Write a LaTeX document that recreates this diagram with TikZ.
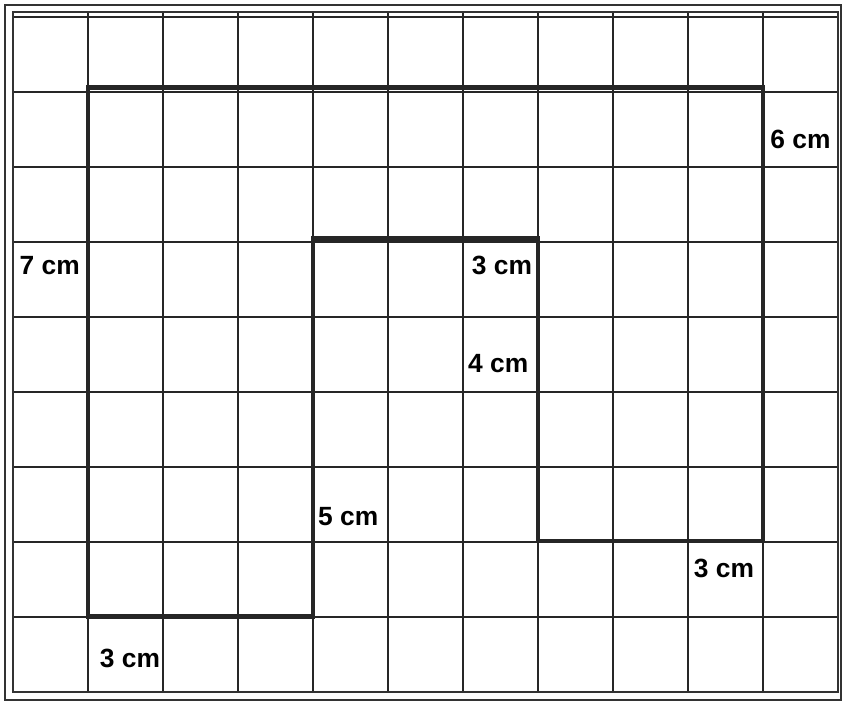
\documentclass[tikz,border=0pt]{standalone}
\usepackage{fontspec}
\newfontfamily\lblfont{Liberation Sans}

\begin{document}
\begin{tikzpicture}[x=1cm, y=1.0074cm]
    \tikzset{ grd/.style ={draw=black!85, line width=0.65pt} }
    \tikzset{ frm/.style ={draw=black!80, line width=0.8pt} }
    \tikzset{ shp/.style ={draw=black!85, line width=1.7pt, line join=miter} }
    \tikzset{ lbl/.style ={font=\lblfont\bfseries\fontsize{10}{12}\selectfont, text=black, inner sep=0pt} }

    \useasboundingbox (-0.173,-0.132) rectangle (11.067,9.159);

    % paper frame and squares
    \draw[frm] (-0.107,-0.106) rectangle (11.04,9.093);
    \draw[grd] (0,0) grid (11,9);
    \draw[frm] (0,0) rectangle (11,9);

    % the figure
    \draw[shp] (1,8) -- (10,8) -- (10,2) -- (7,2) -- (7,6) -- (4,6) -- (4,1) -- (1,1) -- cycle;

    \node[lbl] (left)    at (0.49, 5.65) {7 cm};
    \node[lbl] (right)   at (10.50,7.31) {6 cm};
    \node[lbl] (intop)   at (6.52, 5.65) {3 cm};
    \node[lbl] (inside)  at (6.47, 4.35) {4 cm};
    \node[lbl] (middle)  at (4.47, 2.32) {5 cm};
    \node[lbl] (lowstep) at (9.48, 1.64) {3 cm};
    \node[lbl] (bottom)  at (1.56, 0.44) {3 cm};

\end{tikzpicture}
\end{document}
